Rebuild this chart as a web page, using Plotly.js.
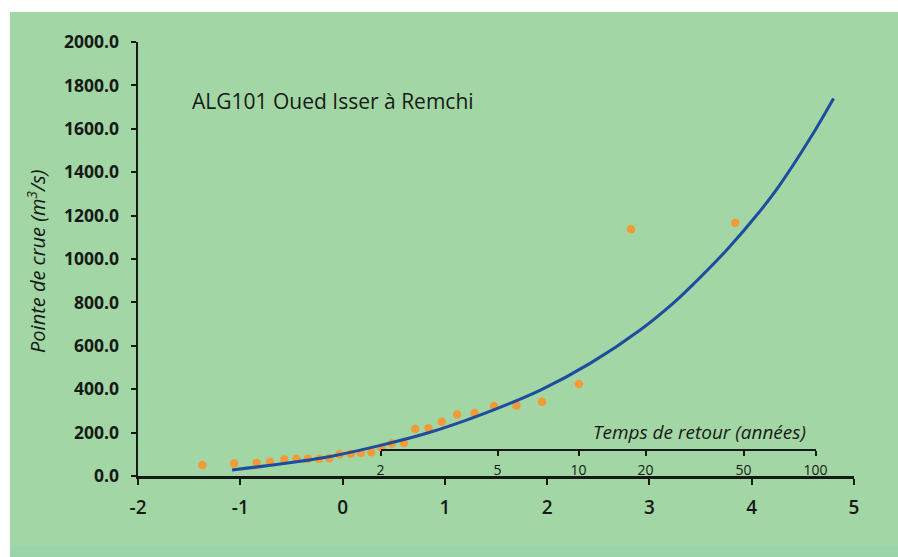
<!DOCTYPE html>
<html>
<head>
<meta charset="utf-8">
<script src="https://cdn.plot.ly/plotly-3.0.1.min.js"></script>
<style>html,body{margin:0;padding:0;background:#fff;}#chart{width:898px;height:557px;}</style>
</head>
<body>
<div id="chart"></div>
<script>
// Observed flood peaks (Gumbel reduced variate, peak discharge m3/s)
const obsX = [-1.37, -1.06, -0.84, -0.71, -0.57, -0.45, -0.34, -0.23, -0.13, -0.03, 0.08, 0.18, 0.28, 0.38, 0.48, 0.60, 0.71, 0.84, 0.97, 1.12, 1.29, 1.48, 1.70, 1.95, 2.31, 2.82, 3.84];
const obsY = [51, 58, 61, 66, 76, 79, 80, 80, 82, 100, 103, 106, 110, 130, 150, 152, 217, 220, 250, 283, 290, 323, 325, 342, 424, 1137, 1167];

// Fitted distribution curve
const fitX = [-1.08, -0.61, -0.12, 0.37, 0.83, 1.35, 1.935, 2.424, 2.913, 3.239, 3.434, 3.76, 4.054, 4.265, 4.57, 4.80];
const fitY = [28, 55, 90, 141, 198, 282, 396, 520, 674, 799, 886, 1044, 1205, 1335, 1555, 1740];

// Axis ticks
const xTicks = [-2, -1, 0, 1, 2, 3, 4, 5];
const xTickLabels = ['-2', '-1', '0', '1', '2', '3', '4', '5'];
const yTicks = [0, 200, 400, 600, 800, 1000, 1200, 1400, 1600, 1800, 2000];

// Return period scale (years) and the reduced-variate positions of its ticks
const returnPeriods = ['2', '5', '10', '20', '50', '100'];
const returnPeriodPos = [0.371, 1.515, 2.307, 2.962, 3.92, 4.624];

const xMin = -2, xMax = 5, yMin = 0, yMax = 2000;
const W = 898, H = 557, mL = 138, mR = 44, mT = 42, mB = 81;
const pw = W - mL - mR, ph = H - mT - mB;
const px = X => (X - mL) / pw;        // pixel -> paper x
const py = Y => (H - mB - Y) / ph;    // pixel -> paper y

const secStart = returnPeriodPos[0], secEnd = returnPeriodPos[returnPeriodPos.length - 1];
const secLevel = 120; // data level where the return-period scale sits

const fontFam = '"Open Sans", "Noto Sans", sans-serif';
const ink = '#161a16';

const traces = [
  {
    x: obsX, y: obsY, type: 'scatter', mode: 'markers',
    marker: {color: '#f29a38', size: 8.5, line: {width: 0}},
    hoverinfo: 'skip', showlegend: false
  },
  {
    x: fitX, y: fitY, type: 'scatter', mode: 'lines',
    line: {color: '#1e4c9f', width: 3, shape: 'spline', smoothing: 1},
    hoverinfo: 'skip', showlegend: false
  },
  {
    x: returnPeriodPos, y: returnPeriodPos.map(() => secLevel),
    xaxis: 'x2', yaxis: 'y', type: 'scatter', mode: 'markers',
    marker: {opacity: 0, size: 1}, hoverinfo: 'skip', showlegend: false
  }
];

const layout = {
  width: W, height: H,
  margin: {l: mL, r: mR, t: mT, b: mB, pad: 0},
  paper_bgcolor: '#a3d6a5',
  plot_bgcolor: 'rgba(0,0,0,0)',
  showlegend: false,
  xaxis: {
    range: [xMin, xMax], domain: [0, 1],
    tickvals: xTicks, ticktext: xTickLabels,
    showline: true, linecolor: ink, linewidth: 2.5,
    ticks: 'outside', ticklen: 6, tickwidth: 2, tickcolor: ink,
    showgrid: false, zeroline: false,
    ticklabelstandoff: 7,
    tickfont: {family: fontFam, size: 19, color: ink, weight: 600}
  },
  xaxis2: {
    range: [secStart, secEnd],
    domain: [(secStart - xMin) / (xMax - xMin), (secEnd - xMin) / (xMax - xMin)],
    anchor: 'free', position: (secLevel - yMin) / (yMax - yMin),
    tickvals: returnPeriodPos, ticktext: returnPeriods,
    showline: true, linecolor: ink, linewidth: 2.5,
    ticks: 'outside', ticklen: 5, tickwidth: 2, tickcolor: ink,
    showgrid: false, zeroline: false,
    ticklabelstandoff: 2,
    tickfont: {family: fontFam, size: 14, color: ink}
  },
  yaxis: {
    range: [yMin, yMax], domain: [0, 1],
    tickvals: yTicks, tickformat: '.1f',
    showline: true, linecolor: ink, linewidth: 2.5,
    ticks: 'outside', ticklen: 5, tickwidth: 2, tickcolor: ink,
    showgrid: false, zeroline: false,
    ticklabelstandoff: 8,
    tickfont: {family: fontFam, size: 17.5, color: ink, weight: 700}
  },
  annotations: [
    {
      text: 'ALG101 Oued Isser à Remchi',
      xref: 'x', yref: 'y', x: -1.49, y: 1728,
      xanchor: 'left', yanchor: 'middle', showarrow: false,
      font: {family: fontFam, size: 21, color: ink}
    },
    {
      text: 'Pointe de crue (m<sup>3</sup>/s)',
      xref: 'paper', yref: 'paper', x: px(36), y: py(262),
      xanchor: 'center', yanchor: 'middle', textangle: -90, showarrow: false,
      font: {family: fontFam, size: 20, color: ink, style: 'italic'}
    },
    {
      text: 'Temps de retour (années)',
      xref: 'x', yref: 'y', x: 4.555, y: 205,
      xanchor: 'right', yanchor: 'middle', showarrow: false,
      font: {family: fontFam, size: 19, color: ink, style: 'italic'}
    }
  ],
  shapes: [
    {type: 'rect', xref: 'paper', yref: 'paper', layer: 'below', line: {width: 0},
     fillcolor: '#ffffff', x0: px(0), x1: px(W), y0: py(12), y1: py(0)},
    {type: 'rect', xref: 'paper', yref: 'paper', layer: 'below', line: {width: 0},
     fillcolor: '#ffffff', x0: px(0), x1: px(10), y0: py(H), y1: py(0)},
    {type: 'rect', xref: 'paper', yref: 'paper', layer: 'below', line: {width: 0},
     fillcolor: '#9ad4a9', x0: px(10), x1: px(W), y0: py(H), y1: py(546)}
  ]
};

Plotly.newPlot('chart', traces, layout, {displayModeBar: false, staticPlot: true});
</script>
</body>
</html>
